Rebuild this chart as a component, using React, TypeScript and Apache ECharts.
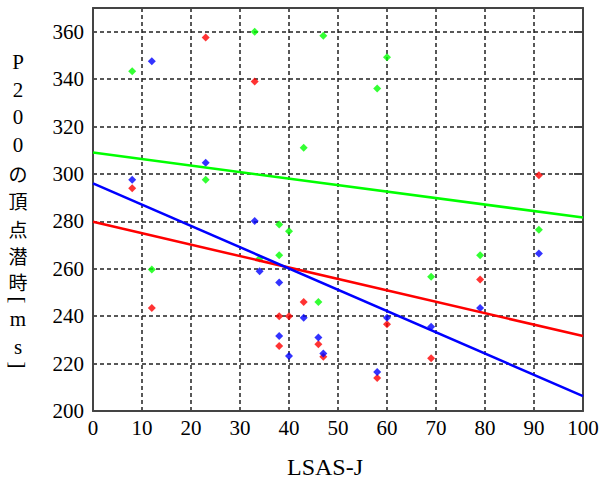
import React, { useEffect, useRef } from "react";
import * as echarts from "echarts";

const xTicks = [0, 10, 20, 30, 40, 50, 60, 70, 80, 90, 100];
const yTicks = [200, 220, 240, 260, 280, 300, 320, 340, 360];

const redPoints: [number, number][] = [
  [8, 294], [12, 243.5], [23, 357.6], [33, 339], [38, 240], [38, 227.4], [40, 240],
  [43, 246], [46, 228.2], [47, 222.9], [58, 213.9], [60, 236.6], [69, 222.3],
  [79, 255.5], [91, 299.4],
];
const greenPoints: [number, number][] = [
  [8, 343.3], [12, 259.7], [23, 297.6], [33, 360], [34, 264.3], [38, 278.7], [38, 265.7],
  [40, 275.8], [43, 311], [46, 246], [47, 358.3], [58, 336], [60, 349.2], [69, 256.6],
  [79, 265.7], [91, 276.5],
];
const bluePoints: [number, number][] = [
  [8, 297.6], [12, 347.5], [23, 304.7], [33, 280.1], [34, 259], [38, 254.2], [38, 231.6],
  [40, 223.2], [43, 239.3], [46, 231], [47, 224.3], [58, 216.4], [60, 239.3], [69, 235.5],
  [79, 243.5], [91, 266.4],
];
const redFit: [number, number][] = [[0, 279.8], [100, 231.6]];
const greenFit: [number, number][] = [[0, 309], [100, 281.6]];
const blueFit: [number, number][] = [[0, 296], [100, 206.3]];

const yTitle = ["P", "2", "0", "0", "の", "頂", "点", "潜", "時", "[", "m", "s", "]"];
const xTitle = "LSAS-J";

const SERIF = "Liberation Serif";
const FRAME = "#444";

// vertical layout of the stacked y-axis title characters (pixel centres)
const TITLE_Y = [62, 90, 117, 145, 173, 200, 228, 255, 281, 300, 319, 347, 365];

export default function App() {
  const ref = useRef<HTMLDivElement>(null);
  useEffect(() => {
    if (!ref.current) return;
    const chart = echarts.init(ref.current, undefined, { renderer: "svg" });
    const dashed = { show: true, lineStyle: { color: "#222", width: 1.5, type: [4, 3] as any } };
    const scatter = (data: [number, number][], color: string) => ({
      type: "scatter",
      data,
      symbol: "diamond",
      symbolSize: 8,
      itemStyle: { color },
      z: 3,
    });
    const fit = (data: [number, number][], color: string) => ({
      type: "line",
      data,
      symbol: "none",
      lineStyle: { color, width: 2.5 },
      z: 4,
    });
    const isCJK = (ch: string) => /[\u3040-\u9fff]/.test(ch);
    const isBracket = (ch: string) => ch === "[" || ch === "]";
    chart.setOption({
      animation: false,
      backgroundColor: "#fff",
      grid: { left: 93, right: 21, top: 8, bottom: 69 },
      xAxis: [
        {
          type: "value",
          min: xTicks[0],
          max: xTicks[xTicks.length - 1],
          interval: 10,
          axisLine: { show: true, onZero: false, lineStyle: { color: FRAME, width: 2 } },
          axisTick: { show: false },
          axisLabel: { color: "#000", fontFamily: SERIF, fontSize: 21, margin: 6 },
          splitLine: dashed,
        },
        {
          type: "value",
          position: "top",
          min: xTicks[0],
          max: xTicks[xTicks.length - 1],
          interval: 10,
          axisLine: { show: true, onZero: false, lineStyle: { color: FRAME, width: 2 } },
          axisTick: { show: false },
          axisLabel: { show: false },
          splitLine: { show: false },
        },
      ],
      yAxis: [
        {
          type: "value",
          min: yTicks[0],
          max: 370,
          interval: 20,
          axisLine: { show: true, onZero: false, lineStyle: { color: FRAME, width: 2 } },
          axisTick: { show: false },
          axisLabel: {
            color: "#000",
            fontFamily: SERIF,
            fontSize: 21,
            margin: 9,
            formatter: (v: number) => (yTicks.includes(v) ? String(v) : ""),
          },
          splitLine: {
            show: true,
            lineStyle: { color: ["#222", "#222", "#222", "#222", "#222", "#222", "#222", "#222", "#222", "rgba(0,0,0,0)"], width: 1.5, type: [4, 3] as any },
          },
        },
        {
          type: "value",
          position: "right",
          min: yTicks[0],
          max: 370,
          interval: 20,
          axisLine: { show: true, onZero: false, lineStyle: { color: FRAME, width: 2 } },
          axisTick: { show: true, inside: true, length: 9, lineStyle: { color: FRAME, width: 2 } },
          axisLabel: { show: false },
          splitLine: { show: false },
        },
      ],
      graphic: [
        {
          type: "text",
          style: {
            text: xTitle,
            x: 325,
            y: 467,
            align: "center",
            verticalAlign: "middle",
            fontFamily: SERIF,
            fontSize: 24,
            fill: "#000",
          },
        } as any,
        ...yTitle.map((ch, i) => ({
          type: "text",
          x: 18,
          y: TITLE_Y[i],
          rotation: isBracket(ch) ? -Math.PI / 2 : 0,
          style: {
            text: ch,
            x: 0,
            y: 0,
            align: "center",
            verticalAlign: "middle",
            fontFamily: isCJK(ch) ? "Noto Sans CJK JP" : SERIF,
            fontSize: isCJK(ch) ? 19 : 21,
            fill: "#000",
          },
        })),
      ],
      series: [
        scatter(greenPoints, "#00ff00"),
        scatter(redPoints, "#ff0000"),
        scatter(bluePoints, "#0000ff"),
        fit(greenFit, "#00ff00"),
        fit(redFit, "#ff0000"),
        fit(blueFit, "#0000ff"),
      ],
    });
    return () => chart.dispose();
  }, []);
  return (
    <div
      ref={ref}
      style={{ position: "fixed", left: 0, top: 0, width: 604, height: 480, background: "#fff" }}
    />
  );
}
